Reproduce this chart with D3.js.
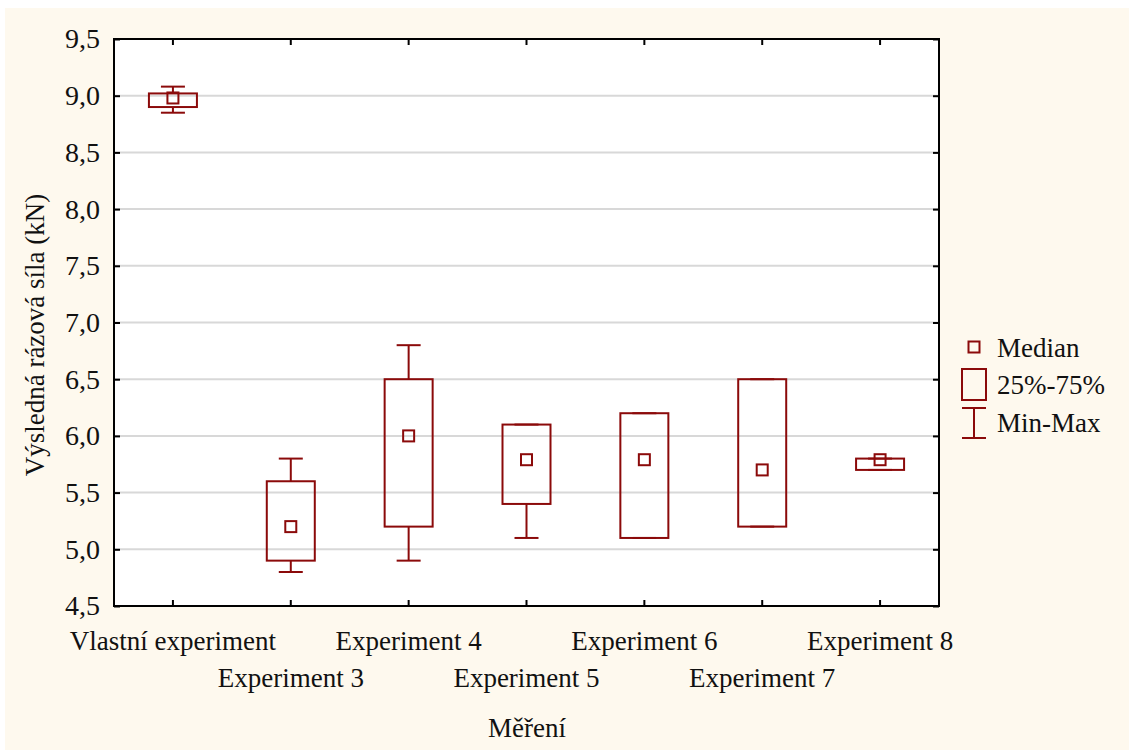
<!DOCTYPE html>
<html>
<head>
<meta charset="utf-8">
<script src="https://cdn.jsdelivr.net/npm/d3@7"></script>
<style>
  html, body { margin: 0; padding: 0; background: #ffffff; }
  svg { display: block; }
  text { font-family: "Liberation Serif", "Times New Roman", serif; fill: #111; }
</style>
</head>
<body>
<svg id="chart" width="1129" height="751"></svg>
<script>
// Measurement groups and their statistics (kN)
const categories = ["Vlastní experiment", "Experiment 3", "Experiment 4", "Experiment 5",
                    "Experiment 6", "Experiment 7", "Experiment 8"];
const medians = [8.98, 5.2, 6.0, 5.79, 5.79, 5.7, 5.79];
const q1 = [8.9, 4.9, 5.2, 5.4, 5.1, 5.2, 5.7];
const q3 = [9.02, 5.6, 6.5, 6.1, 6.2, 6.5, 5.8];
const mins = [8.85, 4.8, 4.9, 5.1, 5.1, 5.2, 5.7];
const maxs = [9.08, 5.8, 6.8, 6.1, 6.2, 6.5, 5.8];
const yTicks = [4.5, 5.0, 5.5, 6.0, 6.5, 7.0, 7.5, 8.0, 8.5, 9.0, 9.5];
const legendLabels = ["Median", "25%-75%", "Min-Max"];

const rows = categories.map((c, i) => ({
  cat: c, med: medians[i], lo: q1[i], hi: q3[i], min: mins[i], max: maxs[i], i
}));

const svg = d3.select("#chart");
const color = "#8b0a0a";
const fmt = d => d3.format(".1f")(d).replace(".", ",");

// Cream page background
svg.append("rect").attr("x", 5).attr("y", 8).attr("width", 1124).attr("height", 742)
  .attr("fill", "#fef9ee");

const plot = { left: 114, right: 939, top: 39, bottom: 606 };

const x = d3.scaleBand().domain(categories).range([plot.left, plot.right]);
const y = d3.scaleLinear().domain([4.5, 9.5]).range([plot.bottom, plot.top]);

// Plot area
svg.append("rect").attr("x", plot.left).attr("y", plot.top)
  .attr("width", plot.right - plot.left).attr("height", plot.bottom - plot.top)
  .attr("fill", "#ffffff");

// Horizontal grid lines
svg.append("g").selectAll("line").data(yTicks.slice(1, -1)).join("line")
  .attr("x1", plot.left).attr("x2", plot.right)
  .attr("y1", d => y(d)).attr("y2", d => y(d))
  .attr("stroke", "#d8d8d8").attr("stroke-width", 2);

// Axes with inward ticks
const styleAxis = g => {
  g.select(".domain").remove();
  g.selectAll(".tick line").attr("stroke", "#000").attr("stroke-width", 2);
  g.selectAll("text").attr("font-family", "Liberation Serif, serif").attr("fill", "#111");
};

svg.append("g").attr("transform", `translate(${plot.left},0)`)
  .call(d3.axisLeft(y).tickValues(yTicks).tickFormat(fmt).tickSizeInner(-6).tickSizeOuter(0).tickPadding(14))
  .call(styleAxis)
  .call(g => g.selectAll("text").attr("font-size", 28));

svg.append("g").attr("transform", `translate(${plot.right},0)`)
  .call(d3.axisRight(y).tickValues(yTicks).tickFormat("").tickSizeInner(-6).tickSizeOuter(0))
  .call(styleAxis);

svg.append("g").attr("transform", `translate(0,${plot.top})`)
  .call(d3.axisTop(x).tickFormat("").tickSizeInner(-6).tickSizeOuter(0))
  .call(styleAxis);

svg.append("g").attr("transform", `translate(0,${plot.bottom})`)
  .call(d3.axisBottom(x).tickSizeInner(-6).tickSizeOuter(0).tickPadding(0))
  .call(styleAxis)
  .call(g => g.selectAll("text")
    .attr("font-size", 27)
    .attr("dy", null)
    .attr("y", (d, i) => i % 2 === 0 ? 44 : 81));

// Frame
svg.append("rect").attr("x", plot.left).attr("y", plot.top)
  .attr("width", plot.right - plot.left).attr("height", plot.bottom - plot.top)
  .attr("fill", "none").attr("stroke", "#000").attr("stroke-width", 2);

// Box plots
const boxW = 48, capW = 24, medS = 11;
const groups = svg.append("g").selectAll("g").data(rows).join("g")
  .attr("transform", d => `translate(${x(d.cat) + x.bandwidth() / 2},0)`);

groups.append("line")
  .attr("y1", d => y(d.max)).attr("y2", d => y(d.hi))
  .attr("stroke", color).attr("stroke-width", 2);
groups.append("line")
  .attr("y1", d => y(d.lo)).attr("y2", d => y(d.min))
  .attr("stroke", color).attr("stroke-width", 2);
groups.append("line")
  .attr("x1", -capW / 2).attr("x2", capW / 2)
  .attr("y1", d => y(d.max)).attr("y2", d => y(d.max))
  .attr("stroke", color).attr("stroke-width", 2);
groups.append("line")
  .attr("x1", -capW / 2).attr("x2", capW / 2)
  .attr("y1", d => y(d.min)).attr("y2", d => y(d.min))
  .attr("stroke", color).attr("stroke-width", 2);
groups.append("rect")
  .attr("x", -boxW / 2).attr("width", boxW)
  .attr("y", d => y(d.hi)).attr("height", d => y(d.lo) - y(d.hi))
  .attr("fill", "none").attr("stroke", color).attr("stroke-width", 2);
groups.append("rect")
  .attr("x", -medS / 2).attr("width", medS)
  .attr("y", d => y(d.med) - medS / 2).attr("height", medS)
  .attr("fill", "none").attr("stroke", color).attr("stroke-width", 2);

// Legend
const lg = svg.append("g").attr("transform", "translate(974,0)");
lg.append("rect").attr("x", -5.5).attr("y", 341.5).attr("width", 11).attr("height", 11)
  .attr("fill", "none").attr("stroke", color).attr("stroke-width", 2);
lg.append("rect").attr("x", -12).attr("y", 369).attr("width", 24).attr("height", 31)
  .attr("fill", "none").attr("stroke", color).attr("stroke-width", 2);
lg.append("line").attr("x1", 0).attr("x2", 0).attr("y1", 408).attr("y2", 438)
  .attr("stroke", color).attr("stroke-width", 2);
lg.append("line").attr("x1", -12).attr("x2", 12).attr("y1", 408).attr("y2", 408)
  .attr("stroke", color).attr("stroke-width", 2);
lg.append("line").attr("x1", -12).attr("x2", 12).attr("y1", 438).attr("y2", 438)
  .attr("stroke", color).attr("stroke-width", 2);
lg.selectAll("text.lbl").data(legendLabels).join("text").attr("class", "lbl")
  .attr("x", 23).attr("y", (d, i) => [357, 394, 432][i])
  .attr("font-size", 27).text(d => d);

// Axis titles
svg.append("text").attr("x", 527).attr("y", 737).attr("text-anchor", "middle")
  .attr("font-size", 27).text("Měření");
svg.append("text").attr("transform", "translate(44,335) rotate(-90)")
  .attr("text-anchor", "middle").attr("font-size", 27).text("Výsledná rázová síla (kN)");
</script>
</body>
</html>
